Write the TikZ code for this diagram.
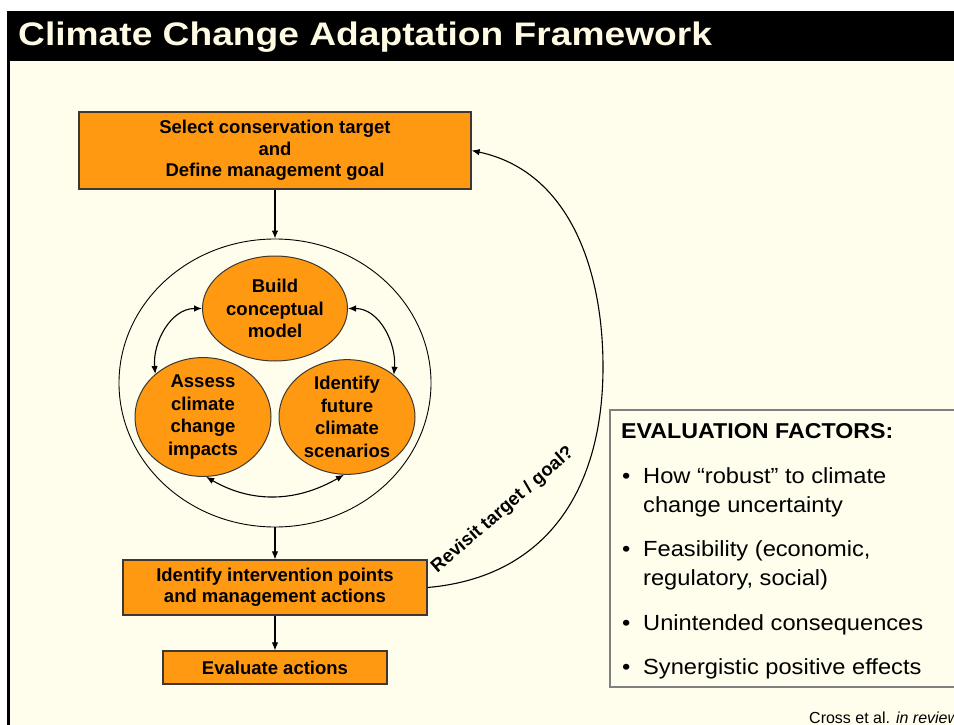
\documentclass[tikz,border=0pt]{standalone}
\usepackage{fontspec}
\setmainfont{Liberation Sans}
\newfontfamily\titlefont{Liberation Sans}[FakeStretch=1.14]
\newfontfamily\listfont{Liberation Sans}[FakeStretch=1.08]
\usepackage{tikz}
\usetikzlibrary{shapes,arrows.meta,positioning}
\definecolor{Cream}{RGB}{255,253,236}
\definecolor{TitleInk}{RGB}{255,250,228}
\definecolor{Orange}{RGB}{255,153,17}
\definecolor{BoxLine}{RGB}{64,56,48}
\definecolor{Frame}{RGB}{128,128,128}

\begin{document}
\begin{tikzpicture}[x=1pt, y=1pt, >={Latex[length=8pt,width=6.5pt]}]
	\tikzstyle{Step}	= [rectangle, draw=BoxLine, line width=1.2pt, fill=Orange, inner sep=0pt, align=center, font=\fontsize{18.5}{21.5}\selectfont\bfseries]
	\tikzstyle{Bubble}	= [ellipse, draw=BoxLine, line width=1pt, fill=Orange, inner sep=0pt, align=center, minimum width=136pt, minimum height=108pt, font=\fontsize{18.5}{22.5}\selectfont\bfseries]
	\tikzstyle{Ring}	= [ellipse, draw, line width=0.9pt, minimum width=312pt, minimum height=288pt, inner sep=0pt]
	\tikzstyle{Link}	= [->, line width=1.1pt]
	\tikzstyle{Both}	= [<->, line width=1.1pt]
	\tikzstyle{Item}	= [anchor=base west, inner sep=0pt, font=\listfont\fontsize{21.9}{29}\selectfont]

	\useasboundingbox (0, 0) rectangle (954, -725);
	\fill [white] (0, 0) rectangle (954, -725);
	\fill [black] (7, -11) rectangle (954, -61);
	\fill [black] (7, -61) rectangle (10, -725);
	\fill [Cream] (10, -61) rectangle (954, -725);
	\node (title) at (18, -46) [anchor=base west, inner sep=0pt, text=TitleInk, font=\titlefont\bfseries\fontsize{32.6}{36}\selectfont] {Climate Change Adaptation Framework};

	\node (sel) at (275, -150.5) [Step, minimum width=392pt, minimum height=77pt] {Select conservation target\\and\\Define management goal};
	\node (ring) at (275, -383) [Ring] {};
	\node (build) at (275, -308.5) [Bubble, minimum width=145pt, minimum height=105pt] {Build\\conceptual\\model};
	\node (assess) at (203, -417) [Bubble] {Assess\\climate\\change\\impacts};
	\node (ident) at (347, -417) [Bubble] {Identify\\future\\climate\\scenarios};
	\node (interv) at (275, -587.5) [Step, minimum width=304pt, minimum height=55pt] {Identify intervention points\\and management actions};
	\node (eval) at (275, -667.5) [Step, minimum width=224pt, minimum height=33pt] {Evaluate actions};

	\draw [Link] (sel) to (ring);
	\draw [Link] (ring) to (interv);
	\draw [Link] (interv) to (eval);
	\draw [Both] (build.west) to [out=180, in=95] (assess.138);
	\draw [Both] (build.east) to [out=0, in=85] (ident.42);
	\draw [Both] (assess.-87) to [out=-30, in=-150] (ident.-93);

	\coordinate (bend) at (603, -367);
	\draw [Link] (interv.east) to [out=5, in=-90, looseness=1.1] (bend) to [out=90, in=-12] (sel.east);
	\node (revisit) at (503, -510) [rotate=41, font=\fontsize{18.5}{22}\selectfont\bfseries] {Revisit target / goal?};

	\draw [draw=Frame, line width=1.3pt, fill=Cream] (610, -410) rectangle (960, -687);
	\node (head) at (621, -438) [Item, font=\listfont\bfseries\fontsize{21.5}{26}\selectfont] {EVALUATION FACTORS:};
	\node (f1) at (622, -483) [Item] {\begin{tabular}[t]{@{}p{21pt}@{}l@{}}•&How “robust” to climate\\&change uncertainty\end{tabular}};
	\node (f2) at (622, -556) [Item] {\begin{tabular}[t]{@{}p{21pt}@{}l@{}}•&Feasibility (economic,\\&regulatory, social)\end{tabular}};
	\node (f3) at (622, -630) [Item] {\begin{tabular}[t]{@{}p{21pt}@{}l@{}}•&Unintended consequences\end{tabular}};
	\node (f4) at (622, -674) [Item] {\begin{tabular}[t]{@{}p{21pt}@{}l@{}}•&Synergistic positive effects\end{tabular}};

	\node (cite) at (809, -723) [anchor=base west, inner sep=0pt, font=\fontsize{16}{19}\selectfont] {Cross et al. \textit{in review}};
\end{tikzpicture}
\end{document}
